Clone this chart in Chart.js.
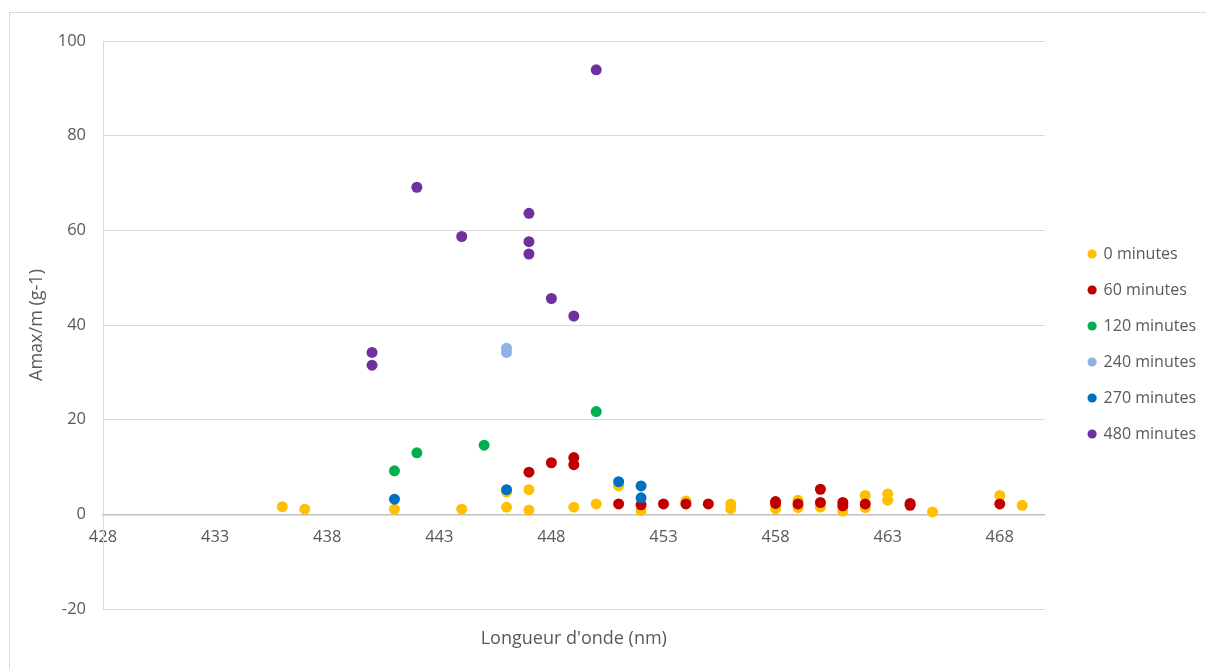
<!DOCTYPE html>
<html>
<head>
<meta charset="utf-8">
<script src="https://cdn.jsdelivr.net/npm/chart.js@4/dist/chart.umd.min.js"></script>
<style>
  html, body { margin: 0; padding: 0; background: #fff; }
  #frame { position: absolute; left: 9px; top: 12px; width: 1200px; height: 660px;
           border-left: 1px solid #d9d9d9; border-top: 1px solid #d9d9d9; }
  #wrap { position: absolute; left: 0; top: 0; width: 1206px; height: 669px; }
</style>
</head>
<body>
<div id="frame"></div>
<div id="wrap"><canvas id="chart" width="1206" height="669"></canvas></div>
<script>
// ---- data ----
var seriesNames = ['0 minutes', '60 minutes', '120 minutes', '240 minutes', '270 minutes', '480 minutes'];
var seriesColors = ['#FFC000', '#C00000', '#00B050', '#8EB4E3', '#0070C0', '#7030A0'];

var wl0 = [436, 437, 441, 444, 446, 446, 447, 447, 449, 450, 451, 452, 454, 456, 456, 458, 459, 459, 460, 461, 462, 462, 463, 463, 465, 468, 469];
var amax0 = [1.6, 1.1, 1.1, 1.1, 4.7, 1.5, 5.2, 0.9, 1.5, 2.2, 6.0, 0.8, 2.8, 2.2, 1.2, 1.2, 3.0, 1.4, 1.5, 0.7, 4.0, 1.4, 4.3, 3.0, 0.5, 4.0, 1.9];

var wl60 = [447, 448, 449, 449, 451, 452, 453, 454, 455, 458, 458, 459, 460, 460, 461, 461, 462, 464, 464, 468];
var amax60 = [8.9, 10.9, 12.0, 10.5, 2.2, 2.0, 2.2, 2.2, 2.2, 2.7, 2.3, 2.2, 5.3, 2.5, 2.5, 1.8, 2.2, 2.3, 1.9, 2.2];

var wl120 = [441, 442, 445, 450];
var amax120 = [9.2, 13.0, 14.6, 21.7];

var wl240 = [446, 446];
var amax240 = [35.1, 34.2];

var wl270 = [441, 446, 451, 452, 452];
var amax270 = [3.2, 5.2, 6.9, 6.0, 3.5];

var wl480 = [440, 440, 442, 444, 447, 447, 447, 448, 449, 450];
var amax480 = [34.2, 31.5, 69.1, 58.7, 63.6, 57.6, 55.0, 45.6, 41.9, 93.9];

var xTicks = [428, 433, 438, 443, 448, 453, 458, 463, 468];
var yTicks = [-20, 0, 20, 40, 60, 80, 100];

var allWl = [wl0, wl60, wl120, wl240, wl270, wl480];
var allAmax = [amax0, amax60, amax120, amax240, amax270, amax480];

var textColor = '#595959';
var fontFamily = '"Open Sans", "Noto Sans", sans-serif';

function toPoints(xs, ys) {
    return xs.map(function(x, i) { return { x: x, y: ys[i] }; });
}

var datasets = seriesNames.map(function(name, i) {
    return {
        label: name,
        data: toPoints(allWl[i], allAmax[i]),
        backgroundColor: seriesColors[i],
        borderColor: seriesColors[i],
        borderWidth: 0,
        pointRadius: 5.5,
        pointHoverRadius: 5.5,
        order: seriesNames.length - 1 - i   // later series drawn on top, like Excel
    };
});

// nudge the legend block to where Excel puts it
var legendShift = {
    id: 'legendShift',
    afterLayout: function(chart) {
        var lg = chart.legend;
        if (!lg) return;
        lg.left += 24; lg.right += 24;
        lg.top += 19; lg.bottom += 19;
    }
};

var ctx = document.getElementById('chart').getContext('2d');
new Chart(ctx, {
    type: 'scatter',
    data: { datasets: datasets },
    plugins: [legendShift],
    options: {
        responsive: false,
        animation: false,
        layout: { padding: { top: 41, left: 0, right: 24, bottom: 9.2 } },
        plugins: {
            legend: {
                position: 'right',
                fullSize: false,
                labels: {
                    usePointStyle: true,
                    pointStyle: 'circle',
                    boxWidth: 7,
                    boxHeight: 6.5,
                    padding: 20,
                    color: textColor,
                    font: { family: fontFamily, size: 16 },
                    sort: function(a, b) { return a.datasetIndex - b.datasetIndex; }
                }
            },
            title: {
                display: true,
                position: 'bottom',
                fullSize: false,
                text: "Longueur d'onde (nm)",
                color: textColor,
                font: { family: fontFamily, size: 18, weight: 'normal' },
                padding: { top: 19.2, bottom: 10 }
            },
            tooltip: { enabled: false }
        },
        scales: {
            x: {
                type: 'linear',
                min: 428,
                max: 470,
                position: { y: 0 },
                afterBuildTicks: function(s) { s.ticks = xTicks.map(function(v) { return { value: v }; }); },
                grid: { display: false, drawTicks: false },
                border: { display: true, color: '#bfbfbf', width: 1.5 },
                ticks: {
                    color: textColor,
                    font: { family: fontFamily, size: 16.5 },
                    padding: 13,
                    maxRotation: 0,
                    autoSkip: false
                }
            },
            y: {
                type: 'linear',
                min: -20,
                max: 100,
                afterBuildTicks: function(s) { s.ticks = yTicks.map(function(v) { return { value: v }; }); },
                afterFit: function(s) { s.width = 103; },
                grid: { color: '#d9d9d9', drawTicks: false },
                border: { display: true, color: '#d9d9d9' },
                ticks: {
                    color: textColor,
                    font: { family: fontFamily, size: 16.5 },
                    padding: 17
                },
                title: {
                    display: true,
                    text: 'Amax/m (g-1)',
                    color: textColor,
                    font: { family: fontFamily, size: 18 },
                    padding: { top: 26.2, bottom: 0 }
                }
            }
        }
    }
});
</script>
</body>
</html>
